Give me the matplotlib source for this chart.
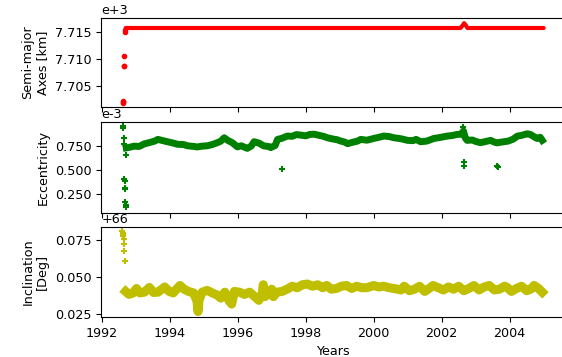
import numpy as np
import matplotlib
matplotlib.use("Agg")
import matplotlib.pyplot as plt
from matplotlib.ticker import FixedLocator, FormatStrFormatter

plt.rcParams["font.size"] = 9.2

## semi-major axes (units of 1e3 km)
sma_years = [1992.70, 1994.0, 1996.0, 1998.0, 2000.0, 2002.55, 2002.62, 2002.66, 2002.70, 2002.76, 2004.0, 2005.0]
sma_vals = [7.7158, 7.7158, 7.7158, 7.7158, 7.7158, 7.7158, 7.7163, 7.7167, 7.7164, 7.7158, 7.7158, 7.7158]
sma_early_years = [1992.61, 1992.62, 1992.63, 1992.64, 1992.64, 1992.66, 1992.67, 1992.68]
sma_early_vals = [7.7022, 7.7019, 7.7017, 7.7087, 7.7086, 7.7106, 7.7151, 7.7155]

## eccentricity (units of 1e-3)
ecc_years = [1992.72, 1992.80, 1992.95, 1993.10, 1993.25, 1993.40, 1993.55, 1993.65, 1993.80, 1993.93,
             1994.10, 1994.23, 1994.40, 1994.52, 1994.70, 1994.81, 1994.95, 1995.11, 1995.25, 1995.40,
             1995.50, 1995.60, 1995.72, 1995.84, 1995.99, 1996.10, 1996.28, 1996.40, 1996.48, 1996.62,
             1996.77, 1996.90, 1996.97, 1997.10, 1997.17, 1997.30, 1997.46, 1997.60, 1997.72, 1997.85,
             1998.00, 1998.12, 1998.25, 1998.40, 1998.52, 1998.64, 1998.80, 1998.92, 1999.03, 1999.15,
             1999.23, 1999.40, 1999.52, 1999.62, 1999.80, 2000.00, 2000.15, 2000.30, 2000.45, 2000.60,
             2000.80, 2001.00, 2001.15, 2001.25, 2001.38, 2001.55, 2001.65, 2001.77, 2001.95, 2002.05,
             2002.17, 2002.30, 2002.46, 2002.58, 2002.64, 2002.70, 2002.75, 2002.90, 2003.02, 2003.14,
             2003.28, 2003.44, 2003.55, 2003.63, 2003.72, 2003.83, 2003.95, 2004.10, 2004.23, 2004.35,
             2004.52, 2004.62, 2004.72, 2004.81, 2004.90, 2004.96]
ecc_vals = [0.730, 0.735, 0.748, 0.745, 0.772, 0.785, 0.800, 0.818, 0.805, 0.794,
            0.780, 0.767, 0.765, 0.752, 0.745, 0.740, 0.748, 0.752, 0.765, 0.784,
            0.800, 0.835, 0.805, 0.784, 0.740, 0.752, 0.725, 0.750, 0.794, 0.780,
            0.750, 0.745, 0.733, 0.755, 0.818, 0.830, 0.853, 0.850, 0.868, 0.863,
            0.855, 0.870, 0.872, 0.860, 0.850, 0.835, 0.822, 0.815, 0.801, 0.790,
            0.774, 0.790, 0.800, 0.818, 0.810, 0.828, 0.840, 0.853, 0.848, 0.835,
            0.825, 0.808, 0.805, 0.818, 0.794, 0.800, 0.812, 0.828, 0.838, 0.845,
            0.853, 0.858, 0.870, 0.872, 0.905, 0.830, 0.808, 0.812, 0.795, 0.784,
            0.795, 0.808, 0.790, 0.782, 0.788, 0.794, 0.800, 0.820, 0.853, 0.860,
            0.877, 0.868, 0.845, 0.828, 0.840, 0.808]
ecc_odd_years = [1992.62, 1992.63, 1992.64, 1992.65, 1992.66, 1992.67, 1992.68, 1992.69, 1992.69, 1992.70,
                 1992.70, 1992.72, 1997.31, 2002.64, 2002.65, 2002.66, 2003.62, 2003.65]
ecc_odd_vals = [0.955, 0.940, 0.835, 0.766, 0.406, 0.390, 0.310, 0.300, 0.166, 0.132,
                0.114, 0.657, 0.510, 0.950, 0.585, 0.540, 0.544, 0.534]

## inclination (degrees minus 66)
inc_years = [1992.70, 1992.80, 1992.92, 1993.02, 1993.12, 1993.25, 1993.40, 1993.52, 1993.65, 1993.85,
             1993.98, 1994.10, 1994.30, 1994.42, 1994.55, 1994.70, 1994.80, 1994.83, 1994.86, 1994.95,
             1995.10, 1995.25, 1995.40, 1995.50, 1995.62, 1995.75, 1995.82, 1995.90, 1996.05, 1996.20,
             1996.35, 1996.50, 1996.62, 1996.72, 1996.75, 1996.80, 1996.90, 1997.00, 1997.05, 1997.15,
             1997.30, 1997.45, 1997.60, 1997.75, 1997.90, 1998.05, 1998.20, 1998.35, 1998.50, 1998.62,
             1998.75, 1998.90, 1999.05, 1999.20, 1999.35, 1999.50, 1999.65, 1999.80, 2000.00, 2000.15,
             2000.30, 2000.45, 2000.60, 2000.80, 2000.90, 2001.05, 2001.20, 2001.35, 2001.50, 2001.60,
             2001.75, 2001.90, 2002.05, 2002.20, 2002.35, 2002.50, 2002.65, 2002.80, 2002.95, 2003.10,
             2003.25, 2003.40, 2003.55, 2003.70, 2003.85, 2003.93, 2004.05, 2004.20, 2004.35, 2004.50,
             2004.62, 2004.72, 2004.85, 2004.96]
inc_vals = [0.0405, 0.0385, 0.0395, 0.0425, 0.0395, 0.0400, 0.0432, 0.0398, 0.0400, 0.0435,
            0.0405, 0.0395, 0.0445, 0.0420, 0.0405, 0.0395, 0.0340, 0.0270, 0.0345, 0.0400,
            0.0412, 0.0395, 0.0380, 0.0360, 0.0400, 0.0340, 0.0320, 0.0405, 0.0400, 0.0385,
            0.0400, 0.0370, 0.0345, 0.0390, 0.0450, 0.0370, 0.0390, 0.0420, 0.0370, 0.0400,
            0.0405, 0.0420, 0.0440, 0.0430, 0.0450, 0.0455, 0.0440, 0.0450, 0.0430, 0.0445,
            0.0420, 0.0425, 0.0440, 0.0445, 0.0425, 0.0440, 0.0430, 0.0430, 0.0445, 0.0435,
            0.0440, 0.0430, 0.0425, 0.0415, 0.0440, 0.0410, 0.0420, 0.0440, 0.0405, 0.0420,
            0.0445, 0.0430, 0.0415, 0.0435, 0.0420, 0.0440, 0.0410, 0.0425, 0.0445, 0.0415,
            0.0435, 0.0445, 0.0415, 0.0420, 0.0440, 0.0432, 0.0405, 0.0425, 0.0440, 0.0410,
            0.0420, 0.0445, 0.0425, 0.0400]
inc_early_years = [1992.60, 1992.61, 1992.62, 1992.63, 1992.64, 1992.65, 1992.66, 1992.68]
inc_early_vals = [0.0813, 0.0800, 0.0790, 0.0775, 0.0757, 0.0723, 0.0678, 0.0611]

## figure
fig = plt.figure(figsize=(5.62, 3.57), dpi=100)
ax1 = fig.add_axes([0.180, 0.700, 0.826, 0.250])
ax2 = fig.add_axes([0.180, 0.403, 0.826, 0.255], sharex=ax1)
ax3 = fig.add_axes([0.180, 0.112, 0.826, 0.252], sharex=ax1)

ax1.plot(sma_years, sma_vals, color="r", lw=3, solid_capstyle="round")
ax1.plot(sma_early_years, sma_early_vals, "r.", ms=6)
ax1.set_ylim(7.7010, 7.7177)
ax1.yaxis.set_major_locator(FixedLocator([7.705, 7.710, 7.715]))
ax1.set_ylabel("Semi-major\nAxes [km]")
ax1.text(0, 1.01, "e+3", transform=ax1.transAxes, ha="left", va="bottom")

ax2.plot(ecc_years, ecc_vals, color="g", lw=5, marker="+", ms=5, mew=1.2)
ax2.plot(ecc_odd_years, ecc_odd_vals, "g+", ms=4, mew=1.5)
ax2.set_ylim(0.052, 0.998)
ax2.yaxis.set_major_locator(FixedLocator([0.25, 0.5, 0.75]))
ax2.set_ylabel("Eccentricity")
ax2.text(0, 1.01, "e-3", transform=ax2.transAxes, ha="left", va="bottom")

ax3.plot(inc_years, inc_vals, color="y", lw=6.5, marker="+", ms=5, mew=1.2)
ax3.plot(inc_early_years, inc_early_vals, "y+", ms=4, mew=1.5)
ax3.set_ylim(0.0233, 0.0838)
ax3.yaxis.set_major_locator(FixedLocator([0.025, 0.050, 0.075]))
ax3.set_ylabel("Inclination\n[Deg]")
ax3.text(0, 1.01, "+66", transform=ax3.transAxes, ha="left", va="bottom")
ax3.set_xlabel("Years")

for ax in (ax1, ax2, ax3):
    ax.yaxis.set_major_formatter(FormatStrFormatter("%.3f"))
ax1.set_xlim(1991.98, 2005.64)
ax1.set_xticks([1992, 1994, 1996, 1998, 2000, 2002, 2004])
plt.setp(ax1.get_xticklabels(), visible=False)
plt.setp(ax2.get_xticklabels(), visible=False)

fig.savefig("out.png", dpi=100)
